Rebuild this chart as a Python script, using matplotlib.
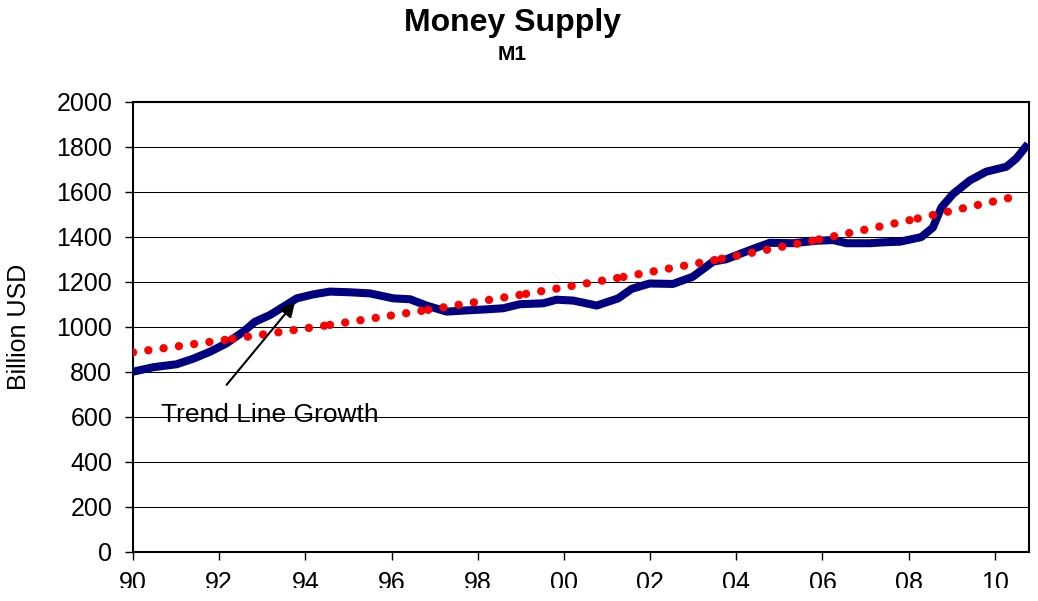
import matplotlib
matplotlib.use("Agg")
import matplotlib.pyplot as plt
from matplotlib.patches import Rectangle

plt.rcParams['font.family'] = ['Liberation Sans', 'DejaVu Sans']

# M1 money supply (billion USD)
m1_years = [1990.00, 1990.47, 1991.01, 1991.40, 1991.79, 1992.17, 1992.56, 1992.83,
            1993.18, 1993.49, 1993.80, 1994.19, 1994.57, 1995.03, 1995.50, 1996.04,
            1996.43, 1996.81, 1997.28, 1997.70, 1998.20, 1998.59, 1998.98, 1999.52,
            1999.83, 2000.22, 2000.76, 2001.26, 2001.57, 2001.99, 2002.53, 2002.99,
            2003.46, 2003.77, 2004.32, 2004.78, 2005.32, 2005.86, 2006.25, 2006.56,
            2007.10, 2007.41, 2007.80, 2008.29, 2008.56, 2008.76, 2009.03, 2009.42,
            2009.80, 2010.27, 2010.50, 2010.77]
m1_values = [800, 820, 833, 858, 889, 926, 978, 1022,
             1052, 1089, 1126, 1144, 1156, 1153, 1148, 1126,
             1122, 1094, 1067, 1072, 1077, 1082, 1100, 1104,
             1120, 1116, 1094, 1126, 1168, 1192, 1190, 1222,
             1289, 1300, 1341, 1373, 1371, 1382, 1385, 1371,
             1371, 1375, 1378, 1398, 1440, 1530, 1590, 1650,
             1689, 1711, 1748, 1812]

# Exponential trend line, drawn in segments
trend_years = [1990.00, 1992.31, 1994.57, 1996.85, 1999.12, 2001.38, 2003.66, 2005.92, 2008.21, 2010.49]
trend_values = [886, 946, 1008, 1075, 1146, 1221, 1302, 1388, 1481, 1579]

xtick_pos = [1990, 1992, 1994, 1996, 1998, 2000, 2002, 2004, 2006, 2008, 2010]
xtick_labels = ['90', '92', '94', '96', '98', '00', '02', '04', '06', '08', '10']
ytick_pos = [0, 200, 400, 600, 800, 1000, 1200, 1400, 1600, 1800, 2000]

fig = plt.figure(figsize=(10.38, 6.01), dpi=100)
ax = fig.add_axes([133/1038, 1 - 551.7/601, (1029.3 - 133)/1038, 450/601])

ax.plot(m1_years, m1_values, color='#000080', lw=5.8, solid_capstyle='butt',
        solid_joinstyle='round', zorder=3)
for i in range(len(trend_years) - 1):
    ax.plot(trend_years[i:i + 2], trend_values[i:i + 2], color='#FF0000', lw=6,
            linestyle=(0, (0.01, 1.84)), dash_capstyle='round', zorder=4)

ax.set_xlim(1990, 2010.80)
ax.set_ylim(0, 2000)
ax.set_xticks(xtick_pos)
ax.set_xticklabels(xtick_labels)
ax.set_yticks(ytick_pos)
ax.tick_params(axis='both', direction='out', labelsize=18, width=1, color='black')
ax.tick_params(axis='y', length=6, pad=9)
ax.tick_params(axis='x', length=5.5, pad=8.5)
ax.yaxis.grid(True, color='black', lw=0.75)
ax.set_axisbelow(True)
for s in ax.spines.values():
    s.set_linewidth(1.5)
    s.set_color('black')

ax.set_ylabel('Billion USD', fontsize=18)
ax.yaxis.set_label_coords(-0.114, 0.5)

ax.annotate('', xy=(1993.8, 1119), xytext=(1992.13, 732),
            arrowprops=dict(arrowstyle='-|>', color='black', lw=1.5, mutation_scale=22),
            zorder=5)
ax.text(1990.64, 575, 'Trend Line Growth', fontsize=19, va='baseline', ha='left', zorder=5)

fig.text(513/1038, 1 - 31/601, 'Money Supply', fontsize=23, fontweight='bold',
         ha='center', va='baseline')
fig.text(512/1038, 1 - 60/601, 'M1', fontsize=15, fontweight='bold',
         ha='center', va='baseline')

# the reference image cuts off the bottom of the x tick labels
fig.add_artist(Rectangle((0, 0), 1, 13/601, transform=fig.transFigure,
                         facecolor='white', edgecolor='none', zorder=10))

fig.savefig('out.png', dpi=100)
